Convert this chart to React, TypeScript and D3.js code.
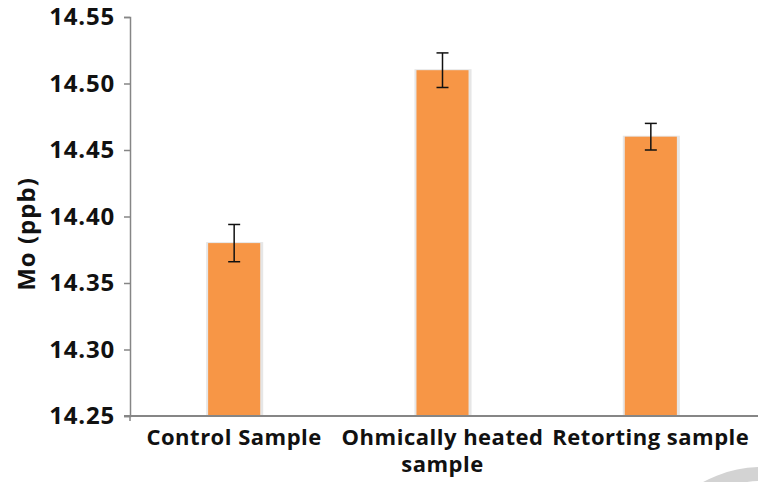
import * as d3 from "d3";
import { useEffect, useRef } from "react";

const categories = ["Control Sample", "Ohmically heated sample", "Retorting sample"];
const labelLines = [["Control Sample"], ["Ohmically heated", "sample"], ["Retorting sample"]];
const values = [14.38, 14.51, 14.46];
const errors = [0.014, 0.013, 0.01];
const yTicks = [14.25, 14.3, 14.35, 14.4, 14.45, 14.5, 14.55];

const W = 758;
const H = 482;

const App = () => {
  const svgRef = useRef<SVGSVGElement>(null);

  useEffect(() => {
    const svg = d3.select(svgRef.current).html("");
    const font = "'Open Sans', sans-serif";

    const x = d3.scaleBand().domain(categories).range([130, 755]).paddingInner(0.75).paddingOuter(0.375);
    const y = d3.scaleLinear().domain([14.25, 14.55]).range([416, 17]);

    // watermark ring bottom right
    svg.append("circle")
      .attr("cx", 762).attr("cy", 590).attr("r", 116)
      .attr("fill", "none").attr("stroke", "#d3d3d3").attr("stroke-width", 14);

    const data = categories.map((c, i) => ({ c, v: values[i], e: errors[i] }));

    // soft shadow behind bars
    svg.selectAll(".shadow").data(data).enter().append("rect")
      .attr("x", d => x(d.c)! - 2)
      .attr("y", d => y(d.v) - 1)
      .attr("width", x.bandwidth() + 5)
      .attr("height", d => 416 - y(d.v) + 1)
      .attr("fill", "#e6e6e6");

    svg.selectAll(".bar").data(data).enter().append("rect")
      .attr("x", d => x(d.c)!)
      .attr("y", d => y(d.v))
      .attr("width", x.bandwidth())
      .attr("height", d => 416 - y(d.v))
      .attr("fill", "#F79646");

    // error bars
    const eb = svg.selectAll(".err").data(data).enter().append("g")
      .attr("stroke", "#111").attr("stroke-width", 1.5);
    const cx = (d: any) => x(d.c)! + x.bandwidth() / 2;
    eb.append("line").attr("x1", cx).attr("x2", cx)
      .attr("y1", d => y(d.v + d.e)).attr("y2", d => y(d.v - d.e));
    eb.append("line").attr("x1", d => cx(d) - 6).attr("x2", d => cx(d) + 6)
      .attr("y1", d => y(d.v + d.e)).attr("y2", d => y(d.v + d.e));
    eb.append("line").attr("x1", d => cx(d) - 6).attr("x2", d => cx(d) + 6)
      .attr("y1", d => y(d.v - d.e)).attr("y2", d => y(d.v - d.e));

    // y axis
    const yAxis = svg.append("g").attr("transform", "translate(130,0)")
      .call(d3.axisLeft(y).tickValues(yTicks).tickFormat(d3.format(".2f")).tickSize(6).tickPadding(9));
    yAxis.select(".domain").attr("stroke", "#868686").attr("stroke-width", 1.5);
    yAxis.selectAll(".tick line").attr("stroke", "#868686").attr("stroke-width", 1.5);
    yAxis.selectAll(".tick text")
      .attr("font-family", font).attr("font-weight", "bold").attr("font-size", 24)
      .attr("letter-spacing", 0.8)
      .attr("fill", "#111");

    // x axis
    svg.append("line").attr("x1", 124).attr("x2", 758).attr("y1", 416).attr("y2", 416)
      .attr("stroke", "#868686").attr("stroke-width", 2);
    svg.append("line").attr("x1", 130).attr("x2", 130).attr("y1", 416).attr("y2", 421)
      .attr("stroke", "#868686").attr("stroke-width", 1.5);

    svg.selectAll(".xl").data(categories).enter().append("text")
      .attr("x", d => x(d)! + x.bandwidth() / 2)
      .attr("y", 445)
      .attr("text-anchor", "middle")
      .attr("font-family", font).attr("font-weight", "bold").attr("font-size", 22)
      .attr("letter-spacing", 0.5)
      .attr("fill", "#111")
      .each(function (_d, i) {
        const t = d3.select(this);
        labelLines[i].forEach((line, j) => {
          t.append("tspan").attr("x", t.attr("x")).attr("dy", j === 0 ? 0 : 27).text(line);
        });
      });

    svg.append("text")
      .attr("transform", "translate(35,234) rotate(-90)")
      .attr("text-anchor", "middle")
      .attr("font-family", font).attr("font-weight", "bold").attr("font-size", 24)
      .attr("letter-spacing", 1)
      .attr("fill", "#111")
      .text("Mo (ppb)");
  }, []);

  return (
    <svg ref={svgRef} width={W} height={H}
      style={{ position: "absolute", top: 0, left: 0, background: "#fff" }} />
  );
};

export default App;
